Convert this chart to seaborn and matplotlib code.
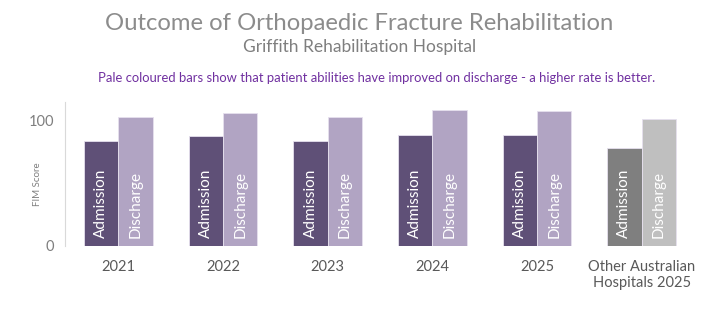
import pandas as pd
import numpy as np
import matplotlib
matplotlib.use('Agg')
import matplotlib.pyplot as plt
import seaborn as sns

# values (FIM score)
categories = ['2021', '2022', '2023', '2024', '2025', 'Other Australian\nHospitals 2025']
admission = [84, 87.7, 83.5, 88.5, 88.5, 78.1]
discharge = [102.6, 106.1, 103, 108.3, 107.7, 101.6]
stages = ['Admission', 'Discharge']

df = pd.DataFrame({
    'group': categories * 2,
    'stage': ['Admission'] * len(categories) + ['Discharge'] * len(categories),
    'score': admission + discharge,
})

purple = {'Admission': '#5E4A7D', 'Discharge': '#B09FC8'}
grey = {'Admission': '#7F7F7F', 'Discharge': '#BFBFBF'}

sns.set_style('white')
plt.rcParams['font.family'] = ['Lato', 'DejaVu Sans']

fig = plt.figure(figsize=(7.19, 3.09), dpi=100)
ax = fig.add_axes([0.0904, 0.2039, 0.8762, 0.4661])

sns.barplot(data=df, x='group', y='score', hue='stage', order=categories,
            hue_order=stages, palette=purple, width=0.656, ax=ax,
            edgecolor='#E6E0EE', linewidth=0.6, legend=False)

# last group is the national comparison, drawn in grey
for cont, st in zip(ax.containers, stages):
    cont[len(categories) - 1].set_facecolor(grey[st])
    for bar in cont:
        xc = bar.get_x() + bar.get_width() / 2
        ax.text(xc, 6.5, st, rotation=90, ha='center', va='bottom',
                color='white', fontsize=11)

ax.set_xlim(-0.51, 5.51)
ax.set_ylim(0, 115)
ax.set_yticks([0, 100])
ax.tick_params(axis='y', labelsize=10.5, labelcolor='#7F7F7F', length=0, pad=8)
ax.tick_params(axis='x', labelsize=10.5, labelcolor='#595959', length=0, pad=10)
ax.set_xlabel('')
ax.set_ylabel('FIM Score', fontsize=7, color='#7F7F7F')
ax.yaxis.set_label_coords(-0.037, 0.43)
for s in ['top', 'right', 'bottom']:
    ax.spines[s].set_visible(False)
ax.spines['left'].set_color('#D9D9D9')

fig.text(0.5, 0.925, 'Outcome of Orthopaedic Fracture Rehabilitation',
         ha='center', va='center', fontsize=17.2, color='#8C8C8C')
fig.text(0.5, 0.848, 'Griffith Rehabilitation Hospital',
         ha='center', va='center', fontsize=12.5, color='#7F7F7F')
fig.text(0.524, 0.748, 'Pale coloured bars show that patient abilities have improved on discharge - a higher rate is better.',
         ha='center', va='center', fontsize=9.4, color='#7030A0')

fig.savefig('out.png', dpi=100)
